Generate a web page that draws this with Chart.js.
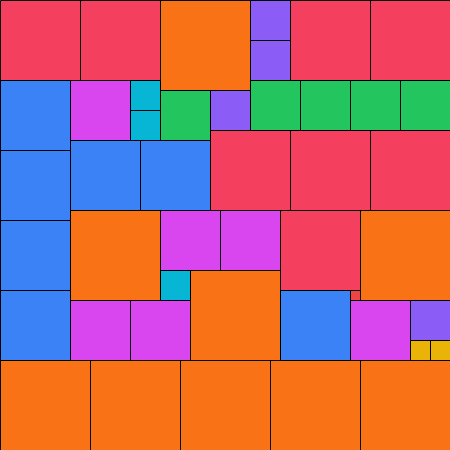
<!DOCTYPE html>
<html>
<head>
<meta charset="utf-8">
<script src="https://cdn.jsdelivr.net/npm/chart.js@4/dist/chart.umd.min.js"></script>
<style>
  html, body { margin:0; padding:0; overflow:hidden; background:#fff; }
  #wrap { width:451px; height:451px; }
</style>
</head>
<body>
<div id="wrap"><canvas id="squares" width="451" height="451"></canvas></div>
<script>
// Partridge packing, order 9: n squares of side n inside a 45 x 45 box
// side of each square, its left column and top row (grid units)
var sides = [9,9,9,9,9,9,9,9,9,
             8,8,8,8,8,8,8,8,
             7,7,7,7,7,7,7,
             6,6,6,6,6,6,
             5,5,5,5,5,
             4,4,4,4,
             3,3,3,
             2,2,
             1];
var cols  = [16,7,36,19,0,9,18,27,36,
             0,8,29,37,21,29,37,28,
             0,0,0,0,7,14,28,
             7,16,22,7,13,35,
             16,25,30,35,40,
             25,25,21,41,
             13,13,16,
             41,43,
             35];
var rows  = [0,21,21,27,36,36,36,36,36,
             0,0,0,0,13,13,13,21,
             8,15,22,29,14,14,29,
             8,21,21,30,30,30,
             9,8,8,8,8,
             0,4,9,30,
             8,11,27,
             34,34,
             29];
var boxSize = 45;

// colour per side length
var sideColors = { 1:'#ef4444', 2:'#eab308', 3:'#06b6d4', 4:'#8b5cf6', 5:'#22c55e',
                   6:'#d946ef', 7:'#3b82f6', 8:'#f43f5e', 9:'#f97316' };

document.addEventListener('DOMContentLoaded', function () {
    var pts = sides.map(function (s, i) {
        return { x: cols[i] + s / 2, y: rows[i] + s / 2, s: s };
    });

    // 'rect' point style draws a square of side radius*sqrt(2)
    function sideRadius(ctx) {
        var sc = ctx.chart.scales.x;
        var px = sc.getPixelForValue(ctx.raw.s) - sc.getPixelForValue(0);
        return px / Math.SQRT2;
    }

    new Chart(document.getElementById('squares'), {
        type:'scatter',
        data:{ datasets:[{ data:pts, pointStyle:'rect',
            pointRadius:sideRadius, pointHoverRadius:sideRadius,
            backgroundColor:function (ctx) { return sideColors[ctx.raw.s]; },
            borderColor:'#000', borderWidth:1, clip:false }] },
        options:{ responsive:false, animation:false, events:[],
            layout:{ padding:0 },
            plugins:{ legend:{display:false}, tooltip:{enabled:false} },
            scales:{ x:{ type:'linear', display:false, min:-0.05, max:boxSize + 0.05 },
                     y:{ type:'linear', display:false, reverse:true, min:-0.05, max:boxSize + 0.05 } } }
    });
});
</script>
</body>
</html>
